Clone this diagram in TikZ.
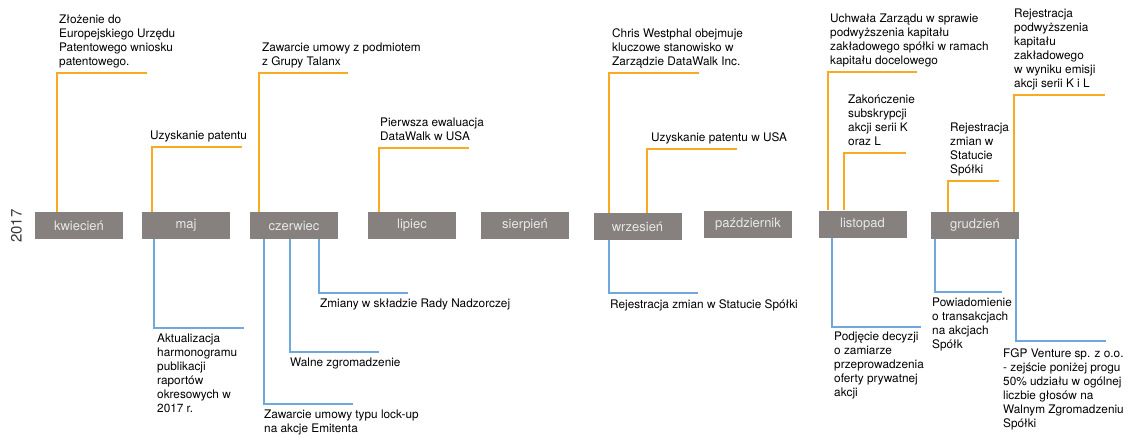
\documentclass[tikz,border=0pt]{standalone}
\usepackage{fontspec}
\setmainfont{TeX Gyre Heros}
\definecolor{monthgray}{RGB}{134,129,127}
\definecolor{monthtext}{RGB}{232,232,232}
\definecolor{uporange}{RGB}{248,170,35}
\definecolor{downblue}{RGB}{110,168,220}
\definecolor{yeargray}{RGB}{55,55,55}

\begin{document}
\begin{tikzpicture}[x=1pt, y=-1pt,
    month/.style={fill=monthgray, minimum width=88pt, minimum height=27pt, inner sep=0pt, text=monthtext, font=\fontsize{13}{15}\selectfont},
    uplink/.style={draw=uporange, line width=1.7pt},
    downlink/.style={draw=downblue, line width=1.7pt},
    ev/.style={inner sep=0pt, align=left, font=\fontsize{11.8}{14}\selectfont},
    evup/.style={ev, anchor=south west, text depth=0pt},
    evdown/.style={ev, anchor=north west}]
    \useasboundingbox (0,0) rectangle (1130,434);
    % year
    \node[rotate=90, text=yeargray, font=\fontsize{15}{16}\selectfont](year)at(16.5,226){2017};
    % months
    \node[month](kwi)at(79,225.5){kwiecień};
    \node[month](maj)at(186,225.5){maj};
    \node[month](cze)at(294,225.5){czerwiec};
    \node[month](lip)at(412,225.5){lipiec};
    \node[month](sie)at(525,225.5){sierpień};
    \node[month](wrz)at(637.5,226.5){wrzesień};
    \node[month](paz)at(748,224){październik};
    \node[month](lis)at(862.5,224){listopad};
    \node[month](gru)at(975,225.5){grudzień};
    % events above
    \coordinate(c1)at(57,73); \coordinate(e1)at(147,73);
    \node[evup](t1)at(59,66){Złożenie do\\Europejskiego Urzędu\\Patentowego wniosku\\patentowego.};
    \path[uplink](kwi.north -| c1)--(c1)--(e1);
    \coordinate(c2)at(152,147); \coordinate(e2)at(242,147);
    \node[evup](t2)at(150,140){Uzyskanie patentu};
    \path[uplink](maj.north -| c2)--(c2)--(e2);
    \coordinate(c3)at(259,73); \coordinate(e3)at(348,73);
    \node[evup](t3)at(262,66){Zawarcie umowy z podmiotem\\z Grupy Talanx};
    \path[uplink](cze.north -| c3)--(c3)--(e3);
    \coordinate(c4)at(379,148); \coordinate(e4)at(469,148);
    \node[evup](t4)at(380,141){Pierwsza ewaluacja\\DataWalk w USA};
    \path[uplink](lip.north -| c4)--(c4)--(e4);
    \coordinate(c5)at(609,73); \coordinate(e5)at(699,73);
    \node[evup](t5)at(612,66){Chris Westphal obejmuje\\kluczowe stanowisko w\\Zarządzie DataWalk Inc.};
    \path[uplink](wrz.north -| c5)--(c5)--(e5);
    \coordinate(c6)at(647,149); \coordinate(e6)at(737,149);
    \node[evup](t6)at(651,142){Uzyskanie patentu w USA};
    \path[uplink](wrz.north -| c6)--(c6)--(e6);
    \coordinate(c7)at(828,72); \coordinate(e7)at(917,72);
    \node[evup](t7)at(830,65){Uchwała Zarządu w sprawie\\podwyższenia kapitału\\zakładowego spółki w ramach\\kapitału docelowego};
    \path[uplink](lis.north -| c7)--(c7)--(e7);
    \coordinate(c8)at(844,153); \coordinate(e8)at(906,153);
    \node[evup](t8)at(848,146){Zakończenie\\subskrypcji\\akcji serii K\\oraz L};
    \path[uplink](lis.north -| c8)--(c8)--(e8);
    \coordinate(c9)at(948,181); \coordinate(e9)at(999,181);
    \node[evup](t9)at(950,174){Rejestracja\\zmian w\\Statucie\\Spółki};
    \path[uplink](gru.north -| c9)--(c9)--(e9);
    \coordinate(c10)at(1014,95); \coordinate(e10)at(1105,95);
    \node[evup](t10)at(1014,88){Rejestracja\\podwyższenia\\kapitału\\zakładowego\\w wyniku emisji\\akcji serii K i L};
    \path[uplink](gru.north -| c10)--(c10)--(e10);
    % events below
    \coordinate(d1)at(154,328); \coordinate(f1)at(244,328);
    \node[evdown](b1)at(157,333.5){Aktualizacja\\harmonogramu\\publikacji\\raportów\\okresowych w\\2017 r.};
    \path[downlink](maj.south -| d1)--(d1)--(f1);
    \coordinate(d2)at(319,293); \coordinate(f2)at(408,293);
    \node[evdown](b2)at(320,298.5){Zmiany w składzie Rady Nadzorczej};
    \path[downlink](cze.south -| d2)--(d2)--(f2);
    \coordinate(d3)at(290,352); \coordinate(f3)at(379,352);
    \node[evdown](b3)at(290,357.5){Walne zgromadzenie};
    \path[downlink](cze.south -| d3)--(d3)--(f3);
    \coordinate(d4)at(264,404); \coordinate(f4)at(353,404);
    \node[evdown](b4)at(264,409.5){Zawarcie umowy typu lock-up\\na akcje Emitenta};
    \path[downlink](cze.south -| d4)--(d4)--(f4);
    \coordinate(d5)at(609,293); \coordinate(f5)at(698,293);
    \node[evdown](b5)at(610,299){Rejestracja zmian w Statucie Spółki};
    \path[downlink](wrz.south -| d5)--(d5)--(f5);
    \coordinate(d6)at(832,327); \coordinate(f6)at(921,327);
    \node[evdown](b6)at(834,332){Podjęcie decyzji\\o zamiarze\\przeprowadzenia\\oferty prywatnej\\akcji};
    \path[downlink](lis.south -| d6)--(d6)--(f6);
    \coordinate(d7)at(935,292); \coordinate(f7)at(1002,292);
    \node[evdown](b7)at(932,298){Powiadomienie\\o transakcjach\\na akcjach\\Spółk};
    \path[downlink](gru.south -| d7)--(d7)--(f7);
    \coordinate(d8)at(1016,341); \coordinate(f8)at(1106,341);
    \node[evdown](b8)at(1003,348){FGP Venture sp. z o.o.\\- zejście poniżej progu\\50\% udziału w ogólnej\\liczbie głosów na\\Walnym Zgromadzeniu\\Spółki};
    \path[downlink](gru.south -| d8)--(d8)--(f8);
\end{tikzpicture}
\end{document}
